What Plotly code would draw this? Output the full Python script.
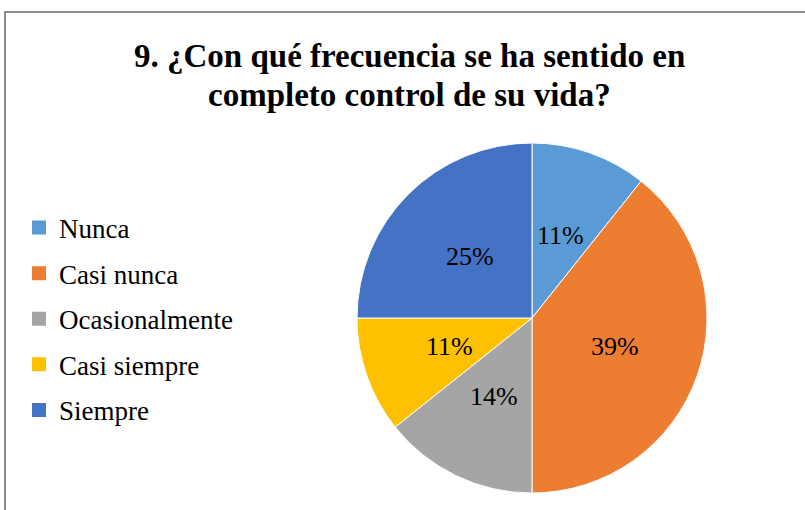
import math
import plotly.graph_objects as go

categorias = ['Nunca', 'Casi nunca', 'Ocasionalmente', 'Casi siempre', 'Siempre']
respuestas = [3, 11, 4, 3, 7]
colores = ['#5B9BD5', '#ED7D31', '#A5A5A5', '#FFC000', '#4472C4']

titulo = ['9. ¿Con qué frecuencia se ha sentido en', 'completo control de su vida?']

W, H = 805, 510
FUENTE = 'Liberation Serif'

# pie placement in px (from top-left)
cx, cy, R = 532, 318, 175

fig = go.Figure(go.Pie(
    labels=categorias,
    values=respuestas,
    sort=False,
    direction='clockwise',
    rotation=0,
    marker=dict(colors=colores, line=dict(color='white', width=1)),
    textinfo='none',
    showlegend=False,
    domain=dict(x=[(cx - R) / W, (cx + R) / W], y=[(H - cy - R) / H, (H - cy + R) / H]),
    hoverinfo='label+percent',
))

# legend entries (one group each so the gap between them can be set)
for cat, col in zip(categorias, colores):
    fig.add_trace(go.Scatter(x=[None], y=[None], mode='markers', name=cat,
                             legendgroup=cat,
                             marker=dict(symbol='square', size=14, color=col)))

# percentage labels at half radius, along each slice's middle angle
total = sum(respuestas)
acum = 0
notas = []
for v in respuestas:
    ang = 2 * math.pi * (acum + v / 2) / total
    acum += v
    px_ = cx + 0.5 * R * math.sin(ang)
    py_ = cy - 0.5 * R * math.cos(ang)
    notas.append(dict(x=px_ / W, y=1 - py_ / H, xref='paper', yref='paper',
                      xanchor='center', yanchor='middle',
                      text=f'{round(100 * v / total)}%', showarrow=False,
                      font=dict(family=FUENTE, size=26, color='black')))

# title as two lines (tighter line spacing than plotly's title)
for i, linea in enumerate(titulo):
    notas.append(dict(x=410 / W, y=1 - (56 + 39 * i) / H, xref='paper', yref='paper',
                      xanchor='center', yanchor='middle',
                      text='<b>' + linea + '</b>', showarrow=False,
                      font=dict(family=FUENTE, size=33, color='black')))

fig.update_layout(
    width=W, height=H,
    margin=dict(l=0, r=0, t=0, b=0),
    paper_bgcolor='white',
    plot_bgcolor='white',
    font=dict(family=FUENTE, color='black'),
    xaxis=dict(visible=False),
    yaxis=dict(visible=False),
    legend=dict(x=19 / W, xanchor='left', y=1 - 319 / H, yanchor='middle',
                font=dict(family=FUENTE, size=27, color='black'),
                tracegroupgap=7.5, traceorder='grouped',
                bgcolor='rgba(0,0,0,0)'),
    annotations=notas,
    shapes=[dict(type='rect', xref='paper', yref='paper',
                 x0=5 / W, x1=1.02, y0=-0.02, y1=1 - 12 / H,
                 line=dict(color='#8c8c8c', width=2))],
)

fig.write_html('out.html', config={'displayModeBar': False},
               post_script="document.body.style.margin='0';")
